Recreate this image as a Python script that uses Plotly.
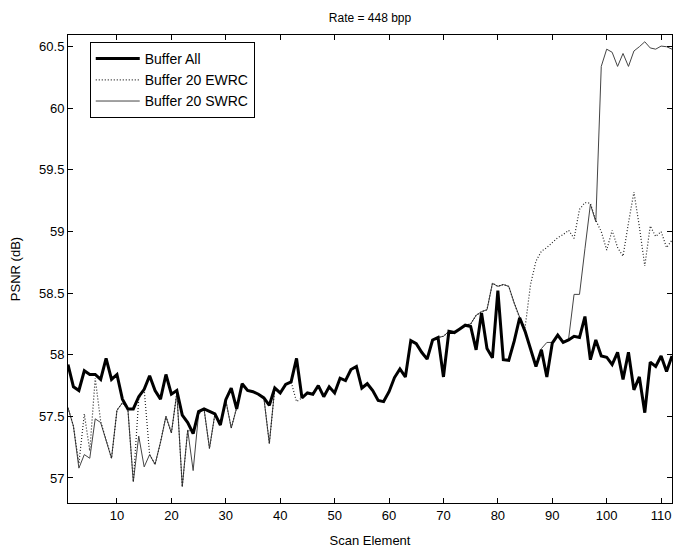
import plotly.graph_objects as go

scan = list(range(1, 113))

buffer_all = [
    57.92, 57.74, 57.71, 57.87, 57.84, 57.84, 57.80, 57.97, 57.80, 57.84,
    57.64, 57.56, 57.56, 57.66, 57.72, 57.83, 57.71, 57.64, 57.84, 57.68,
    57.71, 57.51, 57.45, 57.36, 57.54, 57.56, 57.54, 57.52, 57.43, 57.635,
    57.73, 57.56, 57.765, 57.71, 57.70, 57.68, 57.65, 57.59, 57.73, 57.69,
    57.76, 57.78, 57.97, 57.65, 57.69, 57.68, 57.75, 57.66, 57.74, 57.69,
    57.81, 57.79, 57.88, 57.905, 57.73, 57.765, 57.71, 57.63, 57.62, 57.70,
    57.815, 57.885, 57.82, 58.115, 58.09, 58.02, 57.965, 58.12, 58.14, 57.82,
    58.19, 58.18, 58.21, 58.24, 58.23, 58.04, 58.34, 58.05, 57.975, 58.52,
    57.96, 57.955, 58.11, 58.30, 58.19, 58.05, 57.905, 58.04, 57.82, 58.095,
    58.16, 58.10, 58.12, 58.15, 58.14, 58.31, 57.96, 58.12, 57.99, 57.98,
    57.92, 58.02, 57.80, 58.02, 57.715, 57.82, 57.53, 57.94, 57.905, 57.99,
    57.865, 57.99,
]

buffer20_ewrc = [
    57.57, 57.42, 57.12, 57.52, 57.22, 57.81, 57.46, 57.31, 57.16, 57.55,
    57.61, 57.56, 56.97, 57.64, 57.72, 57.19, 57.11, 57.29, 57.50, 57.365,
    57.69, 56.93, 57.39, 57.36, 57.52, 57.56, 57.24, 57.52, 57.43, 57.63,
    57.405, 57.57, 57.765, 57.71, 57.70, 57.68, 57.65, 57.28, 57.73, 57.69,
    57.76, 57.78, 57.62, 57.65, 57.69, 57.68, 57.75, 57.66, 57.74, 57.69,
    57.81, 57.79, 57.88, 57.905, 57.73, 57.765, 57.71, 57.63, 57.62, 57.70,
    57.815, 57.885, 57.82, 58.115, 58.09, 58.02, 57.965, 58.12, 58.14, 58.15,
    58.19, 58.18, 58.21, 58.24, 58.25, 58.32, 58.35, 58.365, 58.58, 58.555,
    58.57, 58.555, 58.42, 58.30, 58.22, 58.57, 58.76, 58.84, 58.87, 58.91,
    58.95, 58.975, 59.01, 58.945, 59.18, 59.235, 59.23, 59.09, 59.00, 58.85,
    59.01, 58.87, 58.80, 59.07, 59.32, 59.04, 58.72, 59.045, 58.96, 59.00,
    58.87, 58.93,
]

buffer20_swrc = [
    57.57, 57.42, 57.08, 57.19, 57.16, 57.48, 57.45, 57.31, 57.16, 57.55,
    57.61, 57.56, 56.97, 57.34, 57.09, 57.19, 57.11, 57.29, 57.50, 57.365,
    57.69, 56.93, 57.39, 57.06, 57.52, 57.56, 57.24, 57.52, 57.43, 57.63,
    57.405, 57.57, 57.765, 57.71, 57.70, 57.68, 57.65, 57.28, 57.73, 57.69,
    57.76, 57.78, 57.97, 57.65, 57.69, 57.68, 57.75, 57.66, 57.74, 57.69,
    57.81, 57.79, 57.88, 57.905, 57.73, 57.765, 57.71, 57.63, 57.62, 57.70,
    57.815, 57.885, 57.82, 58.115, 58.09, 58.02, 57.965, 58.12, 58.14, 58.15,
    58.19, 58.18, 58.21, 58.24, 58.25, 58.32, 58.35, 58.365, 58.58, 58.555,
    58.57, 58.555, 58.42, 58.30, 58.19, 58.05, 57.905, 58.05, 58.10, 58.10,
    58.16, 58.10, 58.13, 58.49, 58.49, 58.86, 59.22, 59.08, 60.34, 60.48,
    60.455, 60.34, 60.445, 60.34, 60.465, 60.50, 60.54, 60.49, 60.48, 60.505,
    60.50, 60.48,
]

x_ticks = [10, 20, 30, 40, 50, 60, 70, 80, 90, 100, 110]
y_ticks = [57, 57.5, 58, 58.5, 59, 59.5, 60, 60.5]
y_tick_labels = ["57", "57.5", "58", "58.5", "59", "59.5", "60", "60.5"]

FONT = "Liberation Sans, Arial, sans-serif"

fig = go.Figure()
fig.add_trace(go.Scatter(
    x=scan, y=buffer20_swrc, mode="lines", name="Buffer 20 SWRC",
    line=dict(color="#444444", width=1), legendrank=3,
))
fig.add_trace(go.Scatter(
    x=scan, y=buffer20_ewrc, mode="lines", name="Buffer 20 EWRC",
    line=dict(color="#222222", width=1.2, dash="1px,2px"), legendrank=2,
))
fig.add_trace(go.Scatter(
    x=scan, y=buffer_all, mode="lines", name="Buffer All",
    line=dict(color="black", width=3), legendrank=1,
))

axis_common = dict(
    showline=True, linecolor="black", linewidth=1, mirror="ticks",
    ticks="inside", ticklen=5, tickcolor="black", showgrid=False,
    zeroline=False, automargin=False,
    tickfont=dict(family=FONT, size=13, color="black"),
)

fig.update_layout(
    width=673, height=548,
    margin=dict(l=68, r=1, t=35, b=45, autoexpand=False),
    paper_bgcolor="white", plot_bgcolor="white",
    font=dict(family=FONT, size=12, color="black"),
    title=dict(text="Rate = 448 bpp", xref="paper", x=0.5, xanchor="center",
               yref="container", y=0.967, yanchor="middle",
               font=dict(family=FONT, size=12, color="black")),
    xaxis=dict(range=[1, 112], tickvals=x_ticks,
               title=dict(text="Scan Element",
                          font=dict(family=FONT, size=13)),
               **axis_common),
    yaxis=dict(range=[56.797, 60.595], tickvals=y_ticks, ticktext=y_tick_labels,
               title=dict(text="PSNR (dB)",
                          font=dict(family=FONT, size=13)),
               **axis_common),
    legend=dict(x=0.036, y=0.985, xanchor="left", yanchor="top",
                bgcolor="white", bordercolor="black", borderwidth=1,
                font=dict(family=FONT, size=14, color="black"),
                itemwidth=44, tracegroupgap=0),
    showlegend=True,
)

fig.write_html(
    "out.html",
    config={"displayModeBar": False},
    post_script="document.body.style.margin='0px';document.body.style.overflow='hidden';",
)
